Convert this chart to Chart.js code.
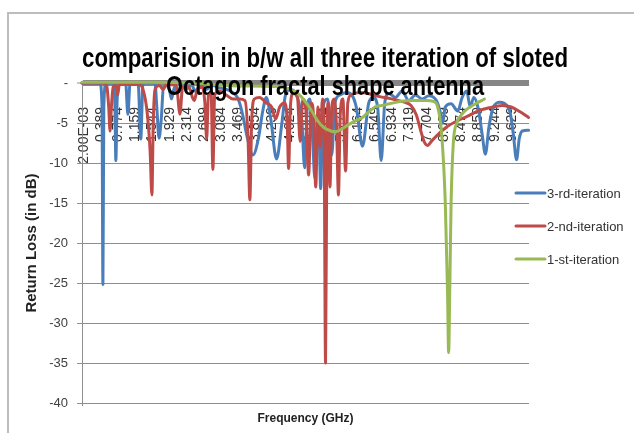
<!DOCTYPE html>
<html>
<head>
<meta charset="utf-8">
<script src="https://cdn.jsdelivr.net/npm/chart.js@4.4.1/dist/chart.umd.min.js"></script>
<style>
  html, body { margin: 0; padding: 0; background: #ffffff; }
  canvas { display: block; }
</style>
</head>
<body>
<canvas id="chart" width="634" height="433"></canvas>
<script>
// Heading, series names and colours
const chartTitle = ['comparision in b/w all three iteration of sloted', 'Octagon fractal shape antenna'];
const seriesNames = ['3-rd-iteration', '2-nd-iteration', '1-st-iteration'];
const seriesColors = ['#4a7ebb', '#be4b48', '#98b954'];

// Axis tick labels
const freqTickLabels = ['2.00E-03', '0.389', '0.774', '1.159', '1.544', '1.929', '2.314', '2.699', '3.084',
  '3.469', '3.854', '4.239', '4.624', '5.009', '5.394', '5.779', '6.164', '6.549', '6.934', '7.319',
  '7.704', '8.089', '8.474', '8.859', '9.244', '9.629'];
const lossTickValues = [0, -5, -10, -15, -20, -25, -30, -35, -40];
const lossTickLabels = ['-', '-5', '-10', '-15', '-20', '-25', '-30', '-35', '-40'];

// 3rd iteration: frequency (GHz) and return loss (dB)
const iter3Freq = [-0.04, 0.36, 0.41, 0.43, 0.45, 0.50,
  0.66, 0.70, 0.72, 0.75, 0.80,
  0.94, 0.99, 1.04,
  1.22, 1.28, 1.33,
  1.60, 1.64, 1.69, 1.74, 1.79,
  1.90, 1.97, 2.04, 2.12, 2.20, 2.30, 2.42, 2.50, 2.62, 2.75, 2.90, 3.05, 3.20, 3.35,
  3.45, 3.55, 3.68, 3.80, 3.92, 4.02, 4.10,
  4.20, 4.33, 4.45, 4.53,
  4.65, 4.78, 4.90, 4.96, 5.02,
  5.08, 5.14, 5.19, 5.25, 5.29, 5.32, 5.37,
  5.48, 5.57, 5.64, 5.75, 5.90, 6.02,
  6.12, 6.26, 6.40, 6.50,
  6.60, 6.68, 6.76,
  6.85, 7.00, 7.15, 7.30, 7.45, 7.60, 7.75, 7.92,
  8.00, 8.06, 8.12, 8.25, 8.40, 8.50, 8.60, 8.68, 8.76, 8.86,
  8.95, 9.02, 9.10, 9.20, 9.35, 9.50, 9.58, 9.65, 9.72, 9.78, 9.85, 9.99];
const iter3Loss = [0, 0, -3, -25.2, -3, 0,
  0, -3, -9.7, -2, 0,
  0, -3.9, 0,
  0, -7.0, 0,
  0, -3, -6.9, -4.5, -0.5,
  -0.3, -2.0, -0.5, -1.2, -0.3, -0.8, -0.2, -1.0, -0.3, -0.8, -0.3, -0.6, -0.8, -1.2,
  -1.8, -3.5, -7.0, -9.0, -7.0, -3.5, -1.8,
  -4.5, -9.5, -5.0, -1.5,
  -0.8, -1.5, -5.0, -10.6, -3.0,
  -2.0, -7.0, -11.9, -4.0, -7.0, -13.2, -3.0,
  -2.0, -9.0, -2.5, -1.5, -1.2, -1.5,
  -3.0, -7.9, -2.5, -1.8,
  -3.0, -9.7, -2.5,
  -1.3, -1.8, -1.0, -2.2, -1.5, -2.0, -1.6, -2.2,
  -3.5, -5.0, -3.0, -2.6, -3.5, -1.8, -1.0, -3.0, -1.8, -3.2,
  -6.5, -8.9, -5.5, -3.0, -2.4, -2.8, -3.8, -6.5, -9.6, -7.0, -6.0, -5.9];

// 2nd iteration
const iter2Freq = [-0.04, 0.45, 0.52, 0.56, 0.59, 0.62, 0.66, 0.72, 0.76, 0.80,
  1.25, 1.33, 1.42, 1.49, 1.53, 1.56, 1.60, 1.70, 1.78, 1.86,
  2.08, 2.16, 2.22, 2.36, 2.44, 2.48, 2.54, 2.66, 2.72, 2.76, 2.80, 2.86, 2.90, 2.94,
  3.05, 3.20, 3.35, 3.50, 3.62, 3.69, 3.73, 3.77, 3.83,
  3.95, 4.10, 4.22, 4.31, 4.40, 4.51, 4.57, 4.60, 4.64, 4.70,
  4.80, 4.86, 4.92, 4.99, 5.05, 5.11, 5.16, 5.21, 5.26, 5.31, 5.36,
  5.40, 5.43, 5.46, 5.49, 5.53, 5.57, 5.63, 5.68, 5.72, 5.76, 5.82, 5.88, 5.93,
  6.00, 6.20, 6.45, 6.65, 6.85, 7.00, 7.20, 7.35, 7.47, 7.57, 7.65, 7.72, 7.82,
  8.00, 8.15, 8.40, 8.60, 8.90, 9.10, 9.40, 9.60, 9.80, 9.99];
const iter2Loss = [0, 0, -0.5, -3.0, -6.0, -3.0, -0.5, -0.3, -1.5, -0.2,
  -0.2, -0.8, -3.5, -8.5, -14.0, -5.0, -0.8, -0.3, -0.8, -0.2,
  -0.3, -3.9, -0.5, -0.5, -1.8, -2.2, -1.0, -0.5, -2.5, -7.0, -1.5, -1.2, -10.8, -1.5,
  -1.0, -1.5, -2.0, -2.0, -2.2, -7.0, -14.6, -5.0, -2.0,
  -1.8, -2.5, -3.0, -4.5, -3.0, -2.5, -5.0, -10.7, -3.0, -1.3,
  -1.8, -7.3, -2.0, -3.5, -11.5, -2.5, -4.0, -13.0, -3.0, -8.0, -2.0,
  -8.0, -35.0, -8.0, -2.5, -13.0, -3.0, -2.0, -6.0, -14.0, -4.0, -2.0, -11.0, -2.5,
  -1.5, -1.2, -1.4, -1.7, -1.9, -2.1, -2.4, -2.8, -4.0, -6.0, -7.4, -7.8, -7.2,
  -6.2, -5.5, -4.7, -4.2, -3.4, -3.1, -2.8, -3.0, -3.6, -4.3];

// 1st iteration
const iter1Freq = [-0.04, 1.50, 2.50, 3.30, 4.30, 4.60, 4.75, 4.88, 5.00, 5.12, 5.25, 5.40,
  5.55, 5.65, 5.78, 5.92, 6.08, 6.26, 6.40, 6.54, 6.70, 6.87, 7.10, 7.40, 7.70, 7.85,
  7.95, 8.04, 8.12, 8.17, 8.195, 8.22, 8.25, 8.30, 8.38, 8.48, 8.60, 8.80, 9.00];
const iter1Loss = [0.1, 0.1, 0, -0.35, -0.45, -0.7, -1.1, -1.7, -2.5, -3.5, -4.7, -5.6,
  -6.0, -6.1, -5.8, -5.3, -4.8, -4.3, -3.6, -3.0, -2.8, -2.6, -2.3, -2.2, -2.2, -2.3,
  -3.0, -6.5, -15, -26, -33.7, -26, -15, -7.5, -5.0, -4.0, -3.3, -2.6, -2.0];

const SANS = '"Liberation Sans", Arial, sans-serif';

function toPoints(xs, ys) {
  return xs.map((x, i) => ({ x: x, y: ys[i] }));
}

// Light frame around the whole chart
const chartFrame = {
  id: 'chartFrame',
  beforeDraw(chart) {
    const ctx = chart.ctx;
    ctx.save();
    ctx.fillStyle = '#ffffff';
    ctx.fillRect(0, 0, chart.width, chart.height);
    ctx.strokeStyle = '#bdbdbd';
    ctx.lineWidth = 2;
    ctx.strokeRect(8, 13, chart.width + 20, chart.height + 20);
    ctx.restore();
  }
};

// Two-line heading drawn over the plot, condensed to its line width
const chartHeading = {
  id: 'chartHeading',
  afterDraw(chart, args, opts) {
    const ctx = chart.ctx;
    ctx.save();
    ctx.font = opts.font;
    ctx.fillStyle = opts.color;
    ctx.textAlign = 'center';
    ctx.textBaseline = 'alphabetic';
    opts.lines.forEach((line, i) => {
      const w = ctx.measureText(line).width;
      const sx = Math.min(1, opts.widths[i] / w);
      ctx.save();
      ctx.translate(opts.centerX, opts.baselines[i]);
      ctx.scale(sx, 1);
      ctx.fillText(line, 0, 0);
      ctx.restore();
    });
    ctx.restore();
  }
};

// Legend placed at the right edge of the plot
const sideLegend = {
  id: 'sideLegend',
  afterDraw(chart, args, opts) {
    const ctx = chart.ctx;
    ctx.save();
    chart.data.datasets.forEach((ds, i) => {
      const y = opts.top + i * opts.gap;
      ctx.strokeStyle = ds.borderColor;
      ctx.lineWidth = 3;
      ctx.lineCap = 'round';
      ctx.beginPath();
      ctx.moveTo(opts.x, y);
      ctx.lineTo(opts.x + opts.lineLength, y);
      ctx.stroke();
      ctx.fillStyle = opts.color;
      ctx.font = opts.font;
      ctx.textAlign = 'left';
      ctx.textBaseline = 'middle';
      ctx.fillText(ds.label, opts.x + opts.lineLength + 2, y + 1);
    });
    ctx.restore();
  }
};

new Chart(document.getElementById('chart'), {
  type: 'line',
  data: {
    datasets: [
      { label: seriesNames[0], data: toPoints(iter3Freq, iter3Loss), borderColor: seriesColors[0], backgroundColor: seriesColors[0], order: 3, xAxisID: 'x', yAxisID: 'y' },
      { label: seriesNames[1], data: toPoints(iter2Freq, iter2Loss), borderColor: seriesColors[1], backgroundColor: seriesColors[1], order: 2, xAxisID: 'x', yAxisID: 'y' },
      { label: seriesNames[2], data: toPoints(iter1Freq, iter1Loss), borderColor: seriesColors[2], backgroundColor: seriesColors[2], order: 1, xAxisID: 'x', yAxisID: 'y' }
    ]
  },
  plugins: [chartFrame, chartHeading, sideLegend],
  options: {
    responsive: false,
    animation: false,
    events: [],
    layout: { padding: { top: 83, right: 105, bottom: 0, left: 0 } },
    datasets: { line: { clip: 4 } },
    elements: {
      line: { borderWidth: 3, cubicInterpolationMode: 'monotone', fill: false, borderJoinStyle: 'round', borderCapStyle: 'round' },
      point: { radius: 0, hoverRadius: 0 }
    },
    plugins: {
      legend: { display: false },
      title: { display: false },
      tooltip: { enabled: false },
      chartHeading: {
        lines: chartTitle,
        font: 'bold 28px ' + SANS,
        color: '#000000',
        centerX: 325,
        baselines: [67, 95],
        widths: [486, 318]
      },
      sideLegend: {
        x: 516, lineLength: 29, top: 193, gap: 33,
        font: '13px ' + SANS,
        color: '#333333'
      }
    },
    scales: {
      x: {
        type: 'linear',
        position: { y: 0 },
        min: -0.04,
        max: 10.0,
        z: 1,
        grid: { display: false },
        border: { display: false },
        afterBuildTicks: (scale) => {
          scale.ticks = freqTickLabels.map(l => ({ value: Number(l) }));
        },
        ticks: {
          autoSkip: false,
          minRotation: 90,
          maxRotation: 90,
          padding: 16,
          color: '#333333',
          font: { family: SANS, size: 14 },
          callback: (v, i) => freqTickLabels[i]
        }
      },
      xTitle: {
        type: 'linear',
        position: 'bottom',
        min: 0,
        max: 1,
        grid: { display: false },
        border: { display: false },
        ticks: { display: false },
        title: {
          display: true,
          text: 'Frequency (GHz)',
          color: '#222222',
          font: { family: SANS, size: 12, weight: 'bold' },
          padding: { top: 6, bottom: 7 }
        },
        afterFit: (scale) => { scale.height = 30; }
      },
      y: {
        type: 'linear',
        position: 'left',
        min: -40,
        max: 0,
        afterBuildTicks: (scale) => {
          scale.ticks = lossTickValues.map(v => ({ value: v }));
        },
        ticks: {
          padding: 9,
          color: '#404040',
          font: { family: SANS, size: 13 },
          callback: (v) => lossTickLabels[lossTickValues.indexOf(v)]
        },
        grid: {
          color: (c) => (c.tick && c.tick.value === 0 ? '#868686' : '#8e8e8e'),
          lineWidth: (c) => (c.tick && c.tick.value === 0 ? 6 : 1),
          tickLength: 5,
          tickWidth: 1,
          tickColor: '#8e8e8e'
        },
        border: { display: true, color: '#8e8e8e', width: 1 },
        title: {
          display: true,
          text: 'Return Loss (in dB)',
          color: '#222222',
          font: { family: SANS, size: 15, weight: 'bold' },
          padding: { top: 23, bottom: 0 }
        },
        afterFit: (scale) => { scale.width = 82; }
      }
    }
  }
});
</script>
</body>
</html>
